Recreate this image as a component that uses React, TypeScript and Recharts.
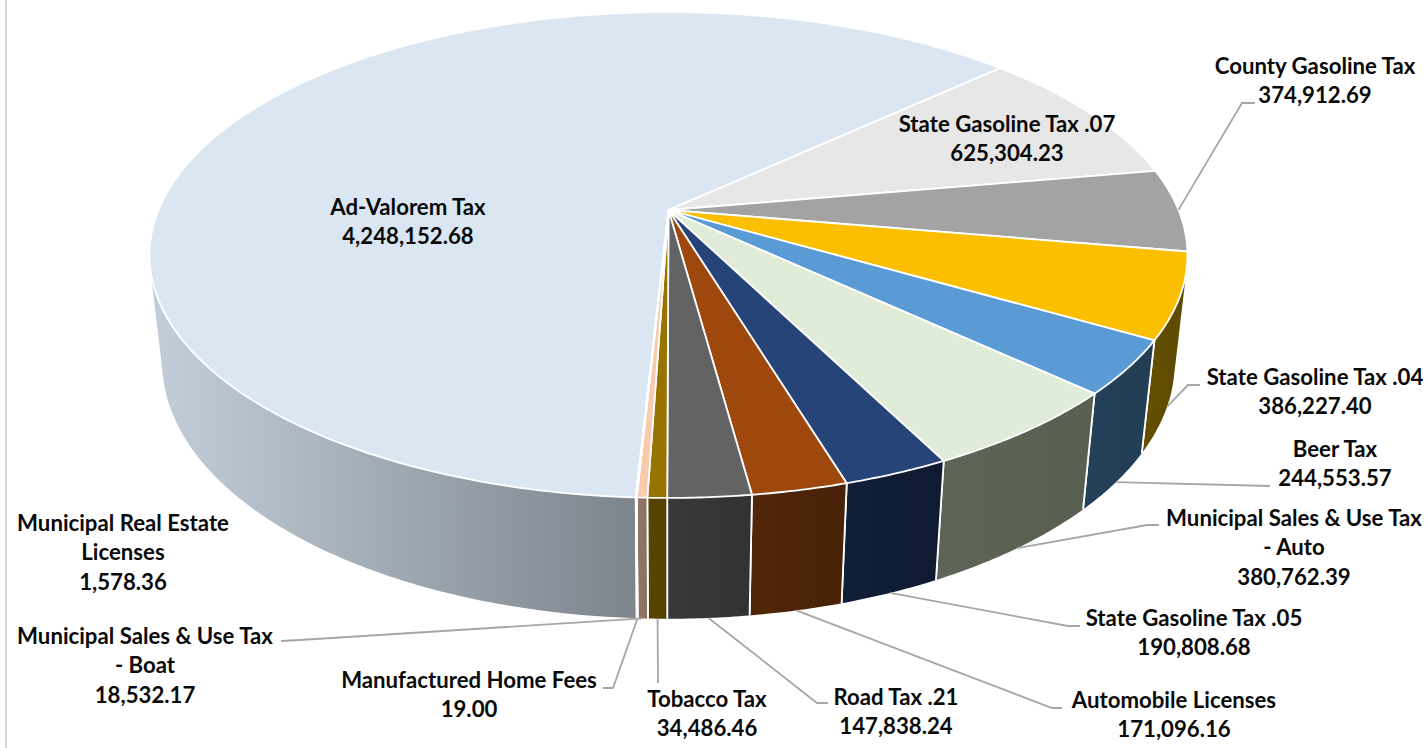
import React from "react";
import { PieChart, Pie } from "recharts";

const NAMES = [
  "Ad-Valorem Tax",
  "State Gasoline Tax .07",
  "County Gasoline Tax",
  "State Gasoline Tax .04",
  "Beer Tax",
  "Municipal Sales & Use Tax - Auto",
  "State Gasoline Tax .05",
  "Automobile Licenses",
  "Road Tax .21",
  "Tobacco Tax",
  "Municipal Sales & Use Tax - Boat",
  "Manufactured Home Fees",
  "Municipal Real Estate Licenses",
];
const VALUES = [
  4248152.68, 625304.23, 374912.69, 386227.4, 244553.57, 380762.39, 190808.68,
  171096.16, 147838.24, 34486.46, 18532.17, 19.0, 1578.36,
];
const LABEL_LINES = [
  ["Ad-Valorem Tax"],
  ["State Gasoline Tax .07"],
  ["County Gasoline Tax"],
  ["State Gasoline Tax .04"],
  ["Beer Tax"],
  ["Municipal Sales & Use Tax", "- Auto"],
  ["State Gasoline Tax .05"],
  ["Automobile Licenses"],
  ["Road Tax .21"],
  ["Tobacco Tax"],
  ["Municipal Sales & Use Tax", "- Boat"],
  ["Manufactured Home Fees"],
  ["Municipal Real Estate", "Licenses"],
];
const TOP_COLORS = [
  "#DAE7F3", "#E7E7E7", "#A3A3A3", "#FCBF00", "#5B9BD5", "#E0ECD8", "#264478",
  "#9E480E", "#636363", "#997300", "#F8CBAD", "#C9C9C9", "#FCE4D6",
];
const WALL_LIGHT = [
  "#C0CDD8", "#8A8A8A", "#666666", "#655000", "#25425B", "#5E6456", "#101E38",
  "#522609", "#393939", "#574500", "#917665", "#777777", "#917665",
];
const WALL_DARK = [
  "#7C848C", "#8A8A8A", "#666666", "#5E4A00", "#223D54", "#596051", "#0E1B31",
  "#482207", "#323232", "#524100", "#8B7060", "#777777", "#8B7060",
];
// label centre [x, first-line y] and leader polyline after its anchor on the pie
const LABEL_POS = [
  [408, 207], [1007, 124], [1315, 66], [1315, 377], [1335, 449], [1294, 518],
  [1194, 618], [1174, 700], [896, 697], [707, 699], [145, 636], [469, 680], [123, 523],
];
const LEADERS: (number[][] | null)[] = [
  null,
  null,
  [[1242, 103], [1255, 103]],
  [[1188, 385], [1200, 385]],
  [[1270, 486]],
  [[1147, 525], [1159, 525]],
  [[1068, 626], [1080, 626]],
  [[1052, 708], [1062, 708]],
  [[817, 703], [828, 703]],
  [[658, 683]],
  [[300, 640], [281, 641]],
  [[613, 688], [603, 688]],
  null,
];

const TABLE = NAMES.map((name, i) => ({ name, value: VALUES[i], index: i }));

const PIE_CX = 668.5;
const PIE_CY = 210;
const PIE_R = 510;
const START = -93;
const LINE_H = 29.5;

// perspective projection of the pie plane
const TILT = 0.1852;
const SQUASH = 0.46;
const DEPTH = 0.2125;
const NEAR = 0.0243;
function project(cx: number, cy: number, r: number, deg: number, h: number) {
  const a = (deg * Math.PI) / 180;
  const u = Math.cos(a);
  const v = Math.sin(a);
  const w = 1 + TILT * v + NEAR * h;
  return [cx + (r * u) / w, cy + (r * (-SQUASH * v + DEPTH * h)) / w, v];
}
function arc(cx: number, cy: number, r: number, a0: number, a1: number, h: number) {
  const n = Math.max(2, Math.ceil(Math.abs(a1 - a0) * 2));
  const out: number[][] = [];
  for (let i = 0; i <= n; i += 1) out.push(project(cx, cy, r, a0 + ((a1 - a0) * i) / n, h));
  return out;
}
const fmt = (n: number) =>
  n.toLocaleString("en-US", { minimumFractionDigits: 2, maximumFractionDigits: 2 });

function TopShape(p: any) {
  const pts = arc(p.cx, p.cy, p.outerRadius, p.startAngle, p.endAngle, 0);
  const d = `M${p.cx},${p.cy}` + pts.map((q) => `L${q[0].toFixed(2)},${q[1].toFixed(2)}`).join("") + "Z";
  return <path d={d} fill={TOP_COLORS[p.index]} stroke="#FFFFFF" strokeWidth={1.8} strokeLinejoin="round" />;
}

function WallShape(p: any) {
  const t = arc(p.cx, p.cy, p.outerRadius, p.startAngle, p.endAngle, 0);
  const b = arc(p.cx, p.cy, p.outerRadius, p.startAngle, p.endAngle, 1);
  let d = "";
  for (let i = 0; i < t.length - 1; i += 1) {
    const q = [t[i], t[i + 1], b[i + 1], b[i]];
    let area = 0;
    q.forEach((c, j) => {
      const e = q[(j + 1) % 4];
      area += c[0] * e[1] - e[0] * c[1];
    });
    if (area < 0) q.reverse();
    d += "M" + q.map((c) => `${c[0].toFixed(2)},${c[1].toFixed(2)}`).join("L") + "Z";
  }
  const front = b.filter((c) => c[2] < 0);
  const xs = (front.length ? front : b).map((c) => c[0]);
  const id = `wall-${p.index}`;
  const last = t.length - 1;
  // side edges are only seen on the front of the pie
  let edges = "";
  if (t[0][2] < -0.25) edges += `M${t[0][0]},${t[0][1]}L${b[0][0]},${b[0][1]}`;
  if (t[last][2] < -0.25) edges += `M${t[last][0]},${t[last][1]}L${b[last][0]},${b[last][1]}`;
  return (
    <g>
      <defs>
        <linearGradient id={id} gradientUnits="userSpaceOnUse" x1={Math.min(...xs)} x2={Math.max(...xs) + 1} y1={0} y2={0}>
          <stop offset="0" stopColor={WALL_LIGHT[p.index]} />
          <stop offset="1" stopColor={WALL_DARK[p.index]} />
        </linearGradient>
      </defs>
      <path d={d} fill={`url(#${id})`} />
      {edges && <path d={edges} stroke="#FFFFFF" strokeWidth={1.8} fill="none" />}
    </g>
  );
}

function SliceLabel(p: any) {
  const i = p.index;
  const [x, y] = LABEL_POS[i];
  const lines = [...LABEL_LINES[i], fmt(VALUES[i])];
  const leader = LEADERS[i];
  // County's leader sits on the top rim, all others on the bottom rim
  const anchor = project(p.cx, p.cy, p.outerRadius, p.midAngle, i === 2 ? 0 : 1);
  const pts = leader ? [[anchor[0], anchor[1]], ...leader] : null;
  return (
    <g>
      {pts && (
        <polyline
          points={pts.map((c) => c.join(",")).join(" ")}
          fill="none"
          stroke="#A6A6A6"
          strokeWidth={1.8}
        />
      )}
      <text
        x={x}
        y={y}
        textAnchor="middle"
        fontFamily="Lato, sans-serif"
        fontWeight={700}
        fontSize={22.2}
        fill="#0A0A0A"
      >
        {lines.map((s, k) => (
          <tspan key={k} x={x} y={y + k * LINE_H} dy="0.36em">
            {s}
          </tspan>
        ))}
      </text>
    </g>
  );
}

export default function App() {
  return (
    <div style={{ position: "absolute", left: 0, top: 0, width: 1428, height: 748, background: "#FFFFFF" }}>
      <div style={{ position: "absolute", left: 5, top: 0, width: 2, height: 748, background: "#D9D9D9" }} />
      <div style={{ position: "absolute", left: 0, top: 0 }}>
        <PieChart width={1428} height={748} margin={{ top: 0, right: 0, bottom: 0, left: 0 }}>
          <Pie
            data={TABLE}
            dataKey="value"
            nameKey="name"
            cx={PIE_CX}
            cy={PIE_CY}
            outerRadius={PIE_R}
            startAngle={START}
            endAngle={START - 360}
            stroke="none"
            shape={WallShape}
            label={false}
            labelLine={false}
            isAnimationActive={false}
          />
          <Pie
            data={TABLE}
            dataKey="value"
            nameKey="name"
            cx={PIE_CX}
            cy={PIE_CY}
            outerRadius={PIE_R}
            startAngle={START}
            endAngle={START - 360}
            stroke="none"
            shape={TopShape}
            label={SliceLabel}
            labelLine={false}
            isAnimationActive={false}
          />
        </PieChart>
      </div>
    </div>
  );
}
